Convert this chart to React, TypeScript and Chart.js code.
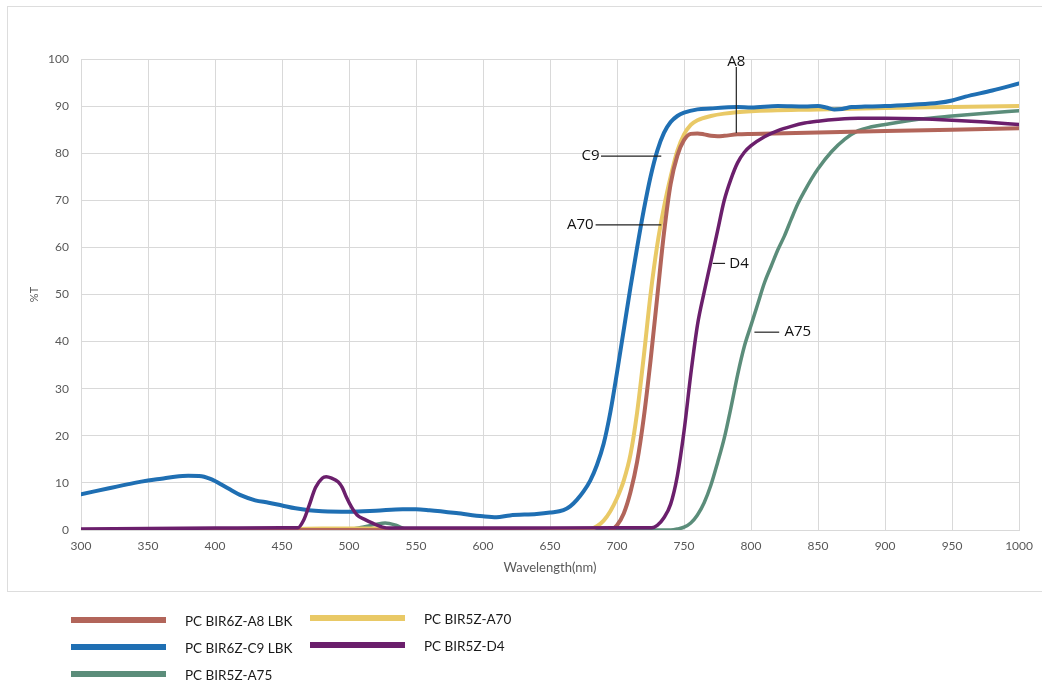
import React, { useEffect, useRef } from "react";
import { Chart, registerables } from "chart.js";

Chart.register(...registerables);

// ---------- data ----------
const X_MIN = 300;
const X_MAX = 1000;
const X_STEP = 50;
const Y_MIN = 0;
const Y_MAX = 100;
const Y_STEP = 10;

const SERIES_LABELS = ["PC BIR6Z-A8 LBK", "PC BIR6Z-C9 LBK", "PC BIR5Z-A75", "PC BIR5Z-A70", "PC BIR5Z-D4"];
const SERIES_COLORS = ["#b2655a", "#1f6fb3", "#5b8d7a", "#e9c966", "#6b1f6c"];

const A8_NM = [300, 400, 500, 600, 640, 660, 680, 690, 695, 700, 705, 710, 715, 720, 725, 730, 735, 740, 745, 750, 755, 760, 765, 770, 775, 780, 790, 800, 850, 900, 950, 1000];
const A8_T = [0, 0, 0, -0.1, -0.3, -0.5, -0.7, -0.6, -0.2, 1, 3.5, 8, 14.5, 24, 36, 49.5, 63, 73.5, 79.5, 82.8, 84.1, 84.2, 84.0, 83.7, 83.6, 83.7, 84.0, 84.1, 84.4, 84.7, 85.0, 85.3];

const C9_NM = [300, 320, 340, 350, 360, 370, 380, 390, 395, 400, 405, 410, 420, 430, 440, 450, 460, 470, 480, 500, 520, 540, 550, 560, 580, 600, 610, 620, 640, 650, 660, 665, 670, 675, 680, 685, 690, 695, 700, 705, 710, 715, 720, 725, 730, 735, 740, 745, 750, 760, 770, 780, 790, 800, 820, 840, 850, 856, 862, 868, 875, 885, 900, 920, 940, 950, 960, 980, 1000];
const C9_T = [7.6, 8.8, 10.0, 10.5, 10.9, 11.3, 11.5, 11.4, 11.0, 10.4, 9.6, 8.8, 7.3, 6.3, 5.8, 5.2, 4.6, 4.2, 4.0, 3.9, 4.1, 4.4, 4.4, 4.2, 3.6, 2.9, 2.7, 3.1, 3.4, 3.7, 4.2, 5.0, 6.4, 8.2, 10.5, 13.8, 18.3, 25, 33.5, 42.5, 51.5, 60, 68, 75, 80.5, 84.3, 86.6, 87.9, 88.6, 89.3, 89.5, 89.7, 89.8, 89.7, 90.0, 89.9, 90.0, 89.7, 89.3, 89.4, 89.8, 89.9, 90.0, 90.3, 90.7, 91.2, 92.0, 93.3, 94.8];

const A75_NM = [300, 400, 480, 500, 510, 520, 527, 535, 542, 550, 600, 700, 740, 745, 750, 755, 760, 765, 770, 775, 780, 785, 790, 795, 800, 805, 810, 815, 820, 825, 830, 835, 840, 845, 850, 860, 870, 880, 890, 900, 925, 950, 975, 1000];
const A75_T = [0, 0, 0, 0.1, 0.6, 1.2, 1.5, 1.0, 0.2, 0, 0, 0, 0, 0.2, 0.6, 1.5, 3.2, 5.8, 9.5, 14.3, 19.5, 26, 33, 39, 43.5, 48, 52.5, 56, 59.5, 62.5, 66, 69.3, 72, 74.5, 76.7, 80.3, 83, 84.8, 85.6, 86.1, 87.2, 87.9, 88.5, 89.0];

const A70_NM = [300, 400, 450, 480, 520, 550, 600, 650, 680, 685, 690, 695, 700, 705, 710, 715, 720, 725, 730, 735, 740, 745, 750, 755, 760, 770, 780, 800, 850, 900, 950, 1000];
const A70_T = [0, 0, 0.1, 0.3, 0.3, 0, 0, 0, 0.2, 0.8, 2.0, 4.0, 6.8, 10.5, 16, 25, 37, 50, 60.5, 68.5, 75, 80.5, 84, 86, 87, 87.9, 88.4, 88.9, 89.3, 89.6, 89.8, 90.0];

const D4_NM = [300, 350, 400, 450, 462, 466, 470, 475, 480, 483, 487, 492, 495, 498, 502, 506, 512, 518, 525, 530, 600, 700, 726, 730, 735, 740, 745, 750, 755, 760, 765, 770, 775, 780, 785, 790, 795, 800, 810, 820, 830, 840, 850, 865, 880, 900, 925, 950, 975, 1000];
const D4_T = [0.2, 0.3, 0.4, 0.5, 0.5, 2, 5, 9, 11.0, 11.3, 11, 10.2, 9, 7, 4.8, 3.2, 2.2, 1.4, 0.6, 0.4, 0.4, 0.5, 0.5, 1.0, 2.6, 5.5, 11.5, 21, 33, 43.5, 50.5, 57, 63.5, 70, 74.5, 78, 80.2, 81.6, 83.5, 84.8, 85.7, 86.4, 86.8, 87.2, 87.4, 87.4, 87.3, 87.0, 86.6, 86.1];

// callout labels with leader lines (data coordinates)
const CALLOUT_TEXT = ["A8", "C9", "A70", "D4", "A75"];
const CALLOUT_LINE_X1 = [789, 688, 684, 771.4, 802.5];
const CALLOUT_LINE_Y1 = [98.3, 79.4, 64.8, 56.6, 42];
const CALLOUT_LINE_X2 = [789, 733, 733, 780.6, 821];
const CALLOUT_LINE_Y2 = [84.3, 79.4, 64.8, 56.6, 42];
const CALLOUT_TEXT_X = [789, 687, 682.5, 783.8, 825];
const CALLOUT_TEXT_Y = [99.5, 79.4, 64.8, 56.6, 42];
const CALLOUT_ALIGN: CanvasTextAlign[] = ["center", "right", "right", "left", "left"];

const X_TITLE = "Wavelength(nm)";
const Y_TITLE = "%T";

const SERIES_NM = [A8_NM, C9_NM, A75_NM, A70_NM, D4_NM];
const SERIES_T = [A8_T, C9_T, A75_T, A70_T, D4_T];
const SERIES_ORDER = [2, 1, 4, 3, 0];
const SERIES_WIDTH = [4, 4, 3.5, 4, 3.5];

const GRID = "#d9d9d9";
const TICK_COLOR = "#595959";

const framePlugin = {
  id: "frame",
  beforeDraw(chart: any) {
    const ctx = chart.ctx;
    ctx.save();
    ctx.fillStyle = "#ffffff";
    ctx.fillRect(0, 0, chart.width, chart.height);
    ctx.strokeStyle = "#dddddd";
    ctx.lineWidth = 1;
    ctx.strokeRect(7.5, 6.5, 1100, 585);
    ctx.restore();
  },
};

const calloutPlugin = {
  id: "callouts",
  afterDatasetsDraw(chart: any) {
    const ctx = chart.ctx;
    const xs = chart.scales.x;
    const ys = chart.scales.y;
    ctx.save();
    ctx.strokeStyle = "#222222";
    ctx.lineWidth = 1.2;
    ctx.fillStyle = "#111111";
    ctx.font = "15px 'Open Sans', sans-serif";
    ctx.textBaseline = "middle";
    CALLOUT_TEXT.forEach((t, i) => {
      ctx.beginPath();
      ctx.moveTo(xs.getPixelForValue(CALLOUT_LINE_X1[i]), ys.getPixelForValue(CALLOUT_LINE_Y1[i]));
      ctx.lineTo(xs.getPixelForValue(CALLOUT_LINE_X2[i]), ys.getPixelForValue(CALLOUT_LINE_Y2[i]));
      ctx.stroke();
      ctx.textAlign = CALLOUT_ALIGN[i];
      ctx.fillText(t, xs.getPixelForValue(CALLOUT_TEXT_X[i]), ys.getPixelForValue(CALLOUT_TEXT_Y[i]));
    });
    ctx.restore();
  },
};

const LEGEND_COL_X = [71, 310];
const LEGEND_ROW_Y = [620, 647, 674];
const LEGEND_SLOTS = [
  [0, 0],
  [0, 1],
  [0, 2],
  [1, 0],
  [1, 1],
];

const legendPlugin = {
  id: "customLegend",
  afterDraw(chart: any) {
    const ctx = chart.ctx;
    ctx.save();
    ctx.font = "13.5px Lato, sans-serif";
    ctx.textBaseline = "middle";
    ctx.textAlign = "left";
    chart.data.datasets.forEach((ds: any, i: number) => {
      const [c, r] = LEGEND_SLOTS[i];
      const x = LEGEND_COL_X[c];
      const y = LEGEND_ROW_Y[r] - (c === 1 ? 2 : 0);
      ctx.fillStyle = ds.borderColor;
      ctx.fillRect(x, y - 3, 95, 6);
      ctx.fillStyle = "#1a1a1a";
      ctx.fillText(ds.label, x + 114, y + 2);
    });
    ctx.restore();
  },
};

export default function App() {
  const canvasRef = useRef<HTMLCanvasElement | null>(null);

  useEffect(() => {
    if (!canvasRef.current) return;
    const datasets = SERIES_LABELS.map((label, i) => ({
      label,
      data: SERIES_NM[i].map((x, j) => ({ x, y: SERIES_T[i][j] })),
      borderColor: SERIES_COLORS[i],
      backgroundColor: SERIES_COLORS[i],
      borderWidth: SERIES_WIDTH[i],
      pointRadius: 0,
      fill: false,
      cubicInterpolationMode: "monotone" as const,
      order: SERIES_ORDER[i],
      borderCapStyle: "round" as const,
      borderJoinStyle: "round" as const,
    }));

    const chart = new Chart(canvasRef.current, {
      type: "line",
      data: { datasets },
      options: {
        animation: false,
        responsive: false,
        devicePixelRatio: 1,
        layout: { padding: { left: 21, right: 22, top: 59, bottom: 106 } },
        plugins: {
          legend: { display: false },
          tooltip: { enabled: false },
        },
        scales: {
          x: {
            type: "linear",
            min: X_MIN,
            max: X_MAX,
            afterFit: (s: any) => {
              s.height = 50;
            },
            ticks: {
              stepSize: X_STEP,
              color: TICK_COLOR,
              padding: 9,
              maxRotation: 0,
              callback: (v: any) => String(v),
              font: { family: "Lato, sans-serif", size: 12 },
            },
            grid: { color: GRID, drawTicks: false },
            border: { color: GRID },
            title: {
              display: true,
              text: X_TITLE,
              color: TICK_COLOR,
              font: { family: "Lato, sans-serif", size: 13 },
              padding: { top: 0, bottom: 4 },
            },
          },
          y: {
            type: "linear",
            min: Y_MIN,
            max: Y_MAX,
            afterFit: (s: any) => {
              s.width = 60;
            },
            ticks: {
              stepSize: Y_STEP,
              color: TICK_COLOR,
              padding: 12,
              callback: (v: any) => String(v),
              font: { family: "Lato, sans-serif", size: 12 },
            },
            grid: { color: GRID, drawTicks: false },
            border: { color: GRID },
            title: {
              display: true,
              text: Y_TITLE,
              color: TICK_COLOR,
              font: { family: "Lato, sans-serif", size: 11 },
              padding: { top: 7, bottom: 0 },
            },
          },
        },
      },
      plugins: [framePlugin, calloutPlugin, legendPlugin],
    });
    return () => chart.destroy();
  }, []);

  return (
    <div style={{ position: "absolute", left: 0, top: 0, width: 1042, height: 686, background: "#fff" }}>
      <canvas ref={canvasRef} width={1042} height={686} style={{ display: "block" }} />
    </div>
  );
}
